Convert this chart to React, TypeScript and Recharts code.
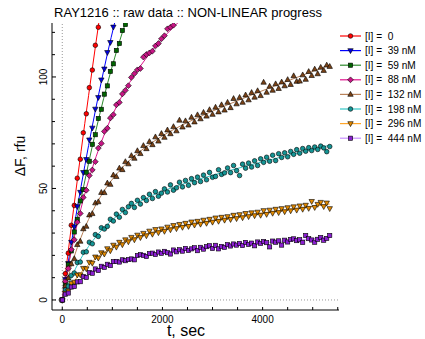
import React from 'react';
import { ComposedChart, XAxis, YAxis, Line, Scatter, ReferenceLine } from 'recharts';

// sampling times, sec
const T = [0, 60, 120, 180, 240, 300, 360, 420, 480, 540, 600, 660, 720, 780, 840, 900, 960, 1020, 1080, 1140,
  1200, 1260, 1320, 1380, 1440, 1500, 1560, 1620, 1680, 1740, 1800, 1860, 1920, 1980, 2040, 2100, 2160, 2220,
  2280, 2340, 2400, 2460, 2520, 2580, 2640, 2700, 2760, 2820, 2880, 2940, 3000, 3060, 3120, 3180, 3240, 3300,
  3360, 3420, 3480, 3540, 3600, 3660, 3720, 3780, 3840, 3900, 3960, 4020, 4080, 4140, 4200, 4260, 4320, 4380,
  4440, 4500, 4560, 4620, 4680, 4740, 4800, 4860, 4920, 4980, 5040, 5100, 5160, 5220, 5280, 5340];

// raw data, rfu
const raw0 = [0, 11.8, 21.0, 33.5, 42.4, 54.6, 63.1, 75.0, 83.5, 95.2, 103.1, 114.2, 122.3];
const raw39 = [0, 9.2, 16.4, 25.9, 32.8, 41.9, 48.3, 57.2, 63.0, 71.8, 77.1, 85.6, 90.8, 98.7, 103.6, 111.0, 115.5, 122.4];
const raw59 = [0, 7.1, 15.9, 22.0, 30.5, 36.1, 44.4, 49.5, 57.3, 62.2, 69.8, 74.1, 81.4, 85.5, 92.3, 96.0, 102.5, 105.9,
  111.9, 115.0, 120.8, 123.5];
const raw88 = [0, 8.4, 14.1, 22.6, 27.0, 34.9, 38.8, 46.0, 49.2, 55.8, 58.3, 62.0, 68.1, 70.2, 75.6, 77.0, 81.6, 83.1,
  87.5, 88.6, 92.4, 94.0, 96.1, 99.8, 101.5, 103.2, 103.8, 108.9, 110.1, 110.8, 111.6, 113.9, 115.0, 117.1, 118.5,
  121.6, 122.3, 123.2];
const raw132 = [0, 6.3, 9.8, 16.2, 18.5, 24.8, 26.3, 31.9, 33.0, 38.1, 38.7, 43.5, 44.0, 48.2, 48.1, 52.4, 51.8, 56.0,
  55.3, 59.1, 58.4, 62.0, 61.0, 64.7, 63.5, 66.9, 65.6, 69.2, 67.8, 71.0, 69.6, 73.1, 71.2, 74.6, 72.9, 76.2, 74.5,
  77.7, 75.8, 80.6, 77.5, 80.3, 78.4, 81.9, 79.8, 83.0, 81.2, 84.1, 82.4, 85.3, 83.2, 86.4, 84.3, 87.5, 85.1, 88.6,
  86.2, 90.3, 87.9, 90.8, 88.6, 91.9, 89.7, 93.0, 90.9, 93.8, 91.6, 97.6, 93.1, 95.8, 94.0, 96.9, 94.8, 97.7, 96.0,
  98.8, 96.6, 100.5, 98.0, 98.1, 100.9, 98.9, 102.4, 100.6, 103.5, 101.4, 104.3, 102.9, 105.3, 104.7];
const raw198 = [0, 4.5, 6.2, 11.0, 12.1, 16.8, 17.0, 21.4, 21.6, 25.9, 25.2, 29.3, 28.5, 32.4, 31.8, 33.0, 36.2, 35.4,
  38.5, 37.1, 40.6, 39.2, 41.8, 43.3, 41.5, 44.7, 43.0, 45.9, 44.6, 47.4, 45.5, 48.6, 46.5, 47.9, 49.8, 48.4, 51.6,
  49.2, 50.3, 52.8, 50.7, 53.6, 51.4, 54.4, 52.6, 55.1, 53.1, 56.0, 53.9, 57.2, 55.0, 55.4, 58.4, 56.3, 57.0, 59.2,
  57.1, 60.3, 58.0, 55.8, 60.9, 59.1, 61.4, 59.6, 62.4, 60.3, 63.3, 61.7, 64.0, 62.2, 64.9, 62.5, 65.6, 63.9, 66.0,
  64.2, 66.6, 65.3, 67.4, 65.8, 67.9, 66.7, 68.3, 67.0, 68.6, 67.5, 69.0, 68.2, 66.5, 68.8];
const raw296 = [0, 3.1, 4.0, 7.4, 8.0, 11.2, 11.3, 14.2, 14.0, 16.9, 16.5, 19.3, 18.8, 21.2, 20.6, 23.0, 22.1, 24.6,
  23.7, 25.9, 24.8, 27.0, 26.1, 28.1, 27.0, 29.1, 28.0, 29.9, 28.8, 30.9, 29.5, 31.6, 30.2, 31.9, 30.8, 32.7, 31.5,
  33.4, 32.0, 33.9, 32.6, 34.4, 33.0, 35.0, 33.6, 35.3, 34.0, 35.8, 34.4, 36.2, 34.9, 36.8, 35.3, 37.1, 35.8, 37.4,
  36.1, 38.0, 36.5, 38.3, 36.9, 38.8, 37.4, 39.1, 37.8, 39.4, 38.0, 40.1, 38.4, 40.3, 38.9, 40.7, 39.2, 41.0, 39.6,
  41.4, 40.0, 41.8, 40.3, 42.2, 40.7, 42.5, 41.1, 44.2, 41.5, 42.9, 43.8, 41.9, 43.5, 41.0];
const raw444 = [0, 2.6, 3.1, 5.8, 6.0, 8.1, 8.2, 10.5, 10.1, 12.3, 12.0, 13.9, 13.2, 15.1, 14.6, 16.0, 15.4, 17.2,
  17.3, 17.0, 18.0, 17.6, 18.1, 18.4, 18.0, 19.9, 20.3, 20.0, 19.5, 20.8, 21.0, 20.4, 21.5, 20.9, 21.8, 21.2, 20.6,
  22.4, 21.6, 22.5, 21.9, 23.1, 22.2, 22.9, 23.4, 22.1, 23.6, 22.8, 23.9, 24.3, 23.1, 24.5, 22.9, 24.0, 23.6, 24.8,
  24.2, 25.1, 24.6, 25.3, 24.4, 25.8, 24.9, 25.5, 24.3, 26.0, 25.4, 26.2, 25.7, 23.8, 26.4, 25.9, 26.5, 24.6, 26.8,
  26.0, 27.1, 27.4, 26.6, 27.0, 25.8, 28.9, 27.5, 26.9, 25.9, 27.2, 28.0, 26.8, 27.6, 28.9];

// fitted curves
const FT = [0, 150, 300, 450, 600, 750, 900, 1050, 1200, 1350, 1500, 1800, 2100, 2400, 2700, 3000, 3300, 3600, 3900,
  4200, 4500, 4800, 5100, 5340];
const fit0 = [0, 27.3, 53.7, 79.2, 103.8, 127.5];
const fit39 = [0, 21.2, 41.3, 60.2, 78.0, 94.7, 110.3, 124.7];
const fit59 = [0, 18.9, 36.8, 53.4, 69.0, 83.4, 96.8, 108.9, 120.0, 129.9];
const fit88 = [0, 18.5, 34.2, 47.6, 59.1, 69.0, 77.6, 85.2, 91.8, 97.7, 102.9, 112.0, 119.6, 126.3];
const fit132 = [0, 12.9, 23.5, 32.3, 39.6, 45.8, 51.1, 55.5, 59.4, 62.8, 65.7, 70.7, 74.9, 78.5, 81.7, 84.7, 87.5,
  90.3, 93.0, 95.6, 98.2, 100.8, 103.4, 105.4];
const fit198 = [0, 8.5, 15.6, 21.5, 26.3, 30.4, 33.9, 36.9, 39.4, 41.6, 43.6, 46.9, 49.6, 51.9, 54.0, 55.9, 57.8,
  59.6, 61.4, 63.1, 64.8, 66.4, 68.1, 69.4];
const fit296 = [0, 5.7, 10.3, 14.2, 17.4, 20.0, 22.2, 24.1, 25.7, 27.1, 28.3, 30.3, 32.0, 33.3, 34.5, 35.6, 36.7,
  37.6, 38.7, 39.6, 40.5, 41.4, 42.3, 43.0];
const fit444 = [0, 4.3, 7.6, 10.4, 12.5, 14.3, 15.7, 16.9, 17.9, 18.7, 19.4, 20.5, 21.5, 22.2, 22.9, 23.6, 24.3,
  24.8, 25.4, 26.0, 26.6, 27.1, 27.7, 28.1];

const legendLabels = ['[I] =  0', '[I] =  39 nM', '[I] =  59 nM', '[I] =  88 nM', '[I] =  132 nM', '[I] =  198 nM',
  '[I] =  296 nM', '[I] =  444 nM'];

const xTicks = [0, 500, 1000, 1500, 2000, 2500, 3000, 3500, 4000, 4500, 5000, 5500];
const xLabels = [0, 2000, 4000];
const yTicks = [0, 10, 20, 30, 40, 50, 60, 70, 80, 90, 100, 110, 120];
const yLabels = [0, 50, 100];

type Kind = 'circle' | 'tdown' | 'square' | 'diamond' | 'tup';

const series: { raw: number[]; fit: number[]; line: string; fill: string; kind: Kind; label: string }[] = [
  { raw: raw0, fit: fit0, line: '#ff0000', fill: '#ff0000', kind: 'circle', label: legendLabels[0] },
  { raw: raw39, fit: fit39, line: '#0000ff', fill: '#0000dd', kind: 'tdown', label: legendLabels[1] },
  { raw: raw59, fit: fit59, line: '#2e8b2e', fill: '#006400', kind: 'square', label: legendLabels[2] },
  { raw: raw88, fit: fit88, line: '#e0158f', fill: '#c71585', kind: 'diamond', label: legendLabels[3] },
  { raw: raw132, fit: fit132, line: '#b9825a', fill: '#7a4216', kind: 'tup', label: legendLabels[4] },
  { raw: raw198, fit: fit198, line: '#33c8c8', fill: '#149494', kind: 'circle', label: legendLabels[5] },
  { raw: raw296, fit: fit296, line: '#ffa62b', fill: '#e38a00', kind: 'tdown', label: legendLabels[6] },
  { raw: raw444, fit: fit444, line: '#c890ff', fill: '#8a1fd0', kind: 'square', label: legendLabels[7] },
];

const FONT = '"Liberation Sans", Arial, Helvetica, sans-serif';

function Marker({ cx, cy, kind, fill }: { cx: number; cy: number; kind: Kind; fill: string }) {
  const st = { fill, stroke: '#000', strokeWidth: 0.6 };
  switch (kind) {
    case 'circle':
      return <circle cx={cx} cy={cy} r={2.3} {...st} />;
    case 'square':
      return <rect x={cx - 2.1} y={cy - 2.1} width={4.2} height={4.2} {...st} />;
    case 'diamond':
      return <polygon points={`${cx},${cy - 2.9} ${cx + 2.9},${cy} ${cx},${cy + 2.9} ${cx - 2.9},${cy}`} {...st} />;
    case 'tup':
      return <polygon points={`${cx},${cy - 3} ${cx + 2.7},${cy + 1.9} ${cx - 2.7},${cy + 1.9}`} {...st} />;
    case 'tdown':
      return <polygon points={`${cx},${cy + 3} ${cx + 2.7},${cy - 1.9} ${cx - 2.7},${cy - 1.9}`} {...st} />;
  }
  return null;
}

const BottomTick = (p: any) => {
  const v = p.payload.value;
  return (
    <g>
      <line x1={p.x} x2={p.x} y1={p.y} y2={p.y - 3} stroke="#000" strokeWidth={1} />
      {xLabels.includes(v) && (
        <text x={p.x} y={p.y + 13} textAnchor="middle" fontSize={10} fontFamily={FONT} fill="#000">
          {v}
        </text>
      )}
    </g>
  );
};
const TopTick = (p: any) => <line x1={p.x} x2={p.x} y1={p.y} y2={p.y + 3} stroke="#000" strokeWidth={1} />;
const LeftTick = (p: any) => {
  const v = p.payload.value;
  const major = yLabels.includes(v);
  return (
    <g>
      <line x1={p.x} x2={p.x + (major ? 4 : 3)} y1={p.y} y2={p.y} stroke="#000" strokeWidth={1} />
      {major && (
        <text
          x={p.x - 5}
          y={p.y}
          transform={`rotate(-90 ${p.x - 5} ${p.y})`}
          textAnchor="middle"
          fontSize={10}
          fontFamily={FONT}
          fill="#000"
        >
          {v}
        </text>
      )}
    </g>
  );
};
const RightTick = (p: any) => <line x1={p.x} x2={p.x - 3} y1={p.y} y2={p.y} stroke="#000" strokeWidth={1} />;

const W = 425;
const H = 339;

export default function App() {
  return (
    <div style={{ position: 'absolute', left: 0, top: 0, width: W, height: H, overflow: 'hidden' }}>
      <ComposedChart width={W} height={H} margin={{ top: 23, right: 86, bottom: 0, left: 8 }}>
        <XAxis
          xAxisId="b"
          dataKey="t"
          type="number"
          domain={[-205, 5525]}
          allowDataOverflow
          ticks={xTicks}
          interval={0}
          tickSize={0}
          tickMargin={0}
          tickLine={false}
          tick={<BottomTick />}
          height={29}
          axisLine={{ stroke: '#000' }}
        />
        <XAxis
          xAxisId="t"
          orientation="top"
          dataKey="t"
          type="number"
          domain={[-205, 5525]}
          allowDataOverflow
          ticks={xTicks}
          interval={0}
          tickSize={0}
          tickMargin={0}
          tickLine={false}
          tick={<TopTick />}
          height={0}
          axisLine={{ stroke: '#000' }}
        />
        <YAxis
          yAxisId="l"
          dataKey="v"
          type="number"
          domain={[-4.5, 124.2]}
          allowDataOverflow
          ticks={yTicks}
          interval={0}
          tickSize={0}
          tickMargin={0}
          tickLine={false}
          tick={<LeftTick />}
          width={44}
          axisLine={{ stroke: '#000' }}
        />
        <YAxis
          yAxisId="r"
          orientation="right"
          dataKey="v"
          type="number"
          domain={[-4.5, 124.2]}
          allowDataOverflow
          ticks={yTicks}
          interval={0}
          tickSize={0}
          tickMargin={0}
          tickLine={false}
          tick={<RightTick />}
          width={0}
          axisLine={{ stroke: '#000' }}
        />
        <ReferenceLine xAxisId="b" yAxisId="l" x={0} stroke="#999" strokeDasharray="1 2" />
        <ReferenceLine xAxisId="b" yAxisId="l" y={0} stroke="#999" strokeDasharray="1 2" />
        {series.map((s, i) => [
          <Line
            key={`l${i}`}
            xAxisId="b"
            yAxisId="l"
            data={s.fit.map((v, j) => ({ t: FT[j], v }))}
            dataKey="v"
            type="monotone"
            stroke={s.line}
            strokeWidth={1}
            dot={false}
            activeDot={false}
            isAnimationActive={false}
          />,
          <Scatter
            key={`s${i}`}
            xAxisId="b"
            yAxisId="l"
            data={s.raw.map((v, j) => ({ t: T[j], v }))}
            dataKey="v"
            isAnimationActive={false}
            shape={(p: any) => <Marker cx={p.cx} cy={p.cy} kind={s.kind} fill={s.fill} />}
          />,
        ])}
      </ComposedChart>
      <svg width={W} height={H} style={{ position: 'absolute', left: 0, top: 0, pointerEvents: 'none' }}>
        <text x={188} y={16.5} textAnchor="middle" fontSize={13} fontFamily={FONT} fill="#000">
          RAY1216 :: raw data :: NON-LINEAR progress
        </text>
        <text x={186} y={336} textAnchor="middle" fontSize={16} fontFamily={FONT} fill="#000">
          t, sec
        </text>
        <text
          x={25}
          y={156}
          transform="rotate(-90 25 156)"
          textAnchor="middle"
          fontSize={14}
          fontFamily={FONT}
          fill="#000"
        >
          ΔF, rfu
        </text>
        {series.map((s, i) => {
          const y = 36 + 14.6 * i;
          return (
            <g key={i}>
              <line x1={340} x2={361} y1={y} y2={y} stroke={s.line} strokeWidth={1.2} />
              <Marker cx={350.5} cy={y} kind={s.kind} fill={s.fill} />
              <text x={365} y={y + 3.6} fontSize={10.1} fontFamily={FONT} fill="#000" style={{ whiteSpace: 'pre' }}>
                {s.label}
              </text>
            </g>
          );
        })}
      </svg>
    </div>
  );
}
